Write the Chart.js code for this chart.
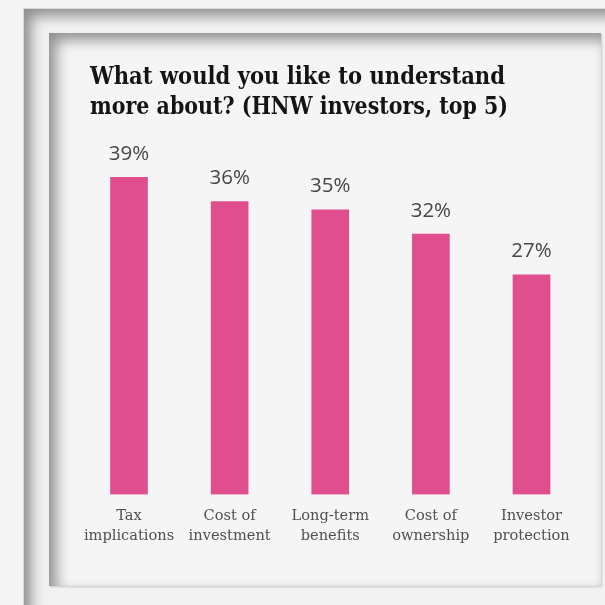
<!DOCTYPE html>
<html>
<head>
<meta charset="utf-8">
<script src="https://cdn.jsdelivr.net/npm/chart.js@4/dist/chart.umd.min.js"></script>
<style>
  html, body { margin: 0; padding: 0; background: #f4f4f4; overflow: hidden; }
  body { width: 605px; height: 605px; position: relative; }
  .frame {
    position: absolute; left: 23px; top: 8px; width: 700px; height: 700px;
    background: #f2f2f2;
    border-left: 1px solid #d8d8d8; border-top: 1px solid #d8d8d8;
    box-shadow: inset 7px 7px 14px rgba(0,0,0,0.42);
  }
  .panel {
    position: absolute; left: 49px; top: 33px; width: 552px; height: 553px;
    background: #f5f5f5;
    box-shadow: inset 7px 7px 14px rgba(0,0,0,0.42), 1px 1px 2px rgba(0,0,0,0.18);
  }
  canvas { position: absolute; left: 0; top: 0; }
</style>
</head>
<body>
<div class="frame"></div>
<div class="panel"><canvas id="chart" width="552" height="553"></canvas></div>
<script>
// Survey answers: share of HNW investors, top 5 topics
const titleLines = ['What would you like to understand', 'more about? (HNW investors, top 5)'];
const categories = [
  ['Tax', 'implications'],
  ['Cost of', 'investment'],
  ['Long-term', 'benefits'],
  ['Cost of', 'ownership'],
  ['Investor', 'protection']
];
const shares = [39, 36, 35, 32, 27];

// Headline drawn in the top band of the canvas, fitted to its column width
const headline = {
  id: 'headline',
  afterDraw(chart) {
    const ctx = chart.ctx;
    ctx.save();
    ctx.fillStyle = '#141414';
    ctx.font = 'bold 25px "DejaVu Serif", "Liberation Serif", serif';
    ctx.textBaseline = 'alphabetic';
    ctx.textAlign = 'left';
    const widths = [415, 418];
    const baselines = [50.5, 81.2];
    titleLines.forEach((line, i) => {
      const w = ctx.measureText(line).width;
      const s = widths[i] / w;
      ctx.save();
      ctx.translate(41, baselines[i]);
      ctx.scale(s, 1);
      ctx.fillText(line, 0, 0);
      ctx.restore();
    });
    ctx.restore();
  }
};

// Percentage labels above each bar
const valueLabels = {
  id: 'valueLabels',
  afterDatasetsDraw(chart) {
    const ctx = chart.ctx;
    const meta = chart.getDatasetMeta(0);
    ctx.save();
    ctx.fillStyle = '#474747';
    ctx.font = '400 20.5px "Open Sans"';
    ctx.textAlign = 'center';
    ctx.textBaseline = 'middle';
    meta.data.forEach((bar, i) => {
      ctx.fillText(shares[i] + '%', bar.x, bar.y - 23.5);
    });
    ctx.restore();
  }
};

new Chart(document.getElementById('chart'), {
  type: 'bar',
  data: {
    labels: categories,
    datasets: [{
      data: shares,
      backgroundColor: '#e04e8e',
      borderWidth: 0,
      barThickness: 37
    }]
  },
  options: {
    responsive: false,
    animation: false,
    layout: { padding: { top: 136.1, left: 29.7, right: 19.2, bottom: 31.5 } },
    plugins: {
      legend: { display: false },
      title: { display: false },
      tooltip: { enabled: false }
    },
    scales: {
      x: {
        grid: { display: false },
        border: { display: false },
        ticks: {
          color: '#505050',
          padding: 3,
          maxRotation: 0,
          autoSkip: false,
          font: { family: '"DejaVu Serif", "Liberation Serif", serif', size: 14.6, lineHeight: 1.42 }
        },
        afterFit(scale) { scale.height = 60; }
      },
      y: {
        display: false,
        min: 0,
        max: 40
      }
    }
  },
  plugins: [headline, valueLabels]
});
</script>
</body>
</html>
